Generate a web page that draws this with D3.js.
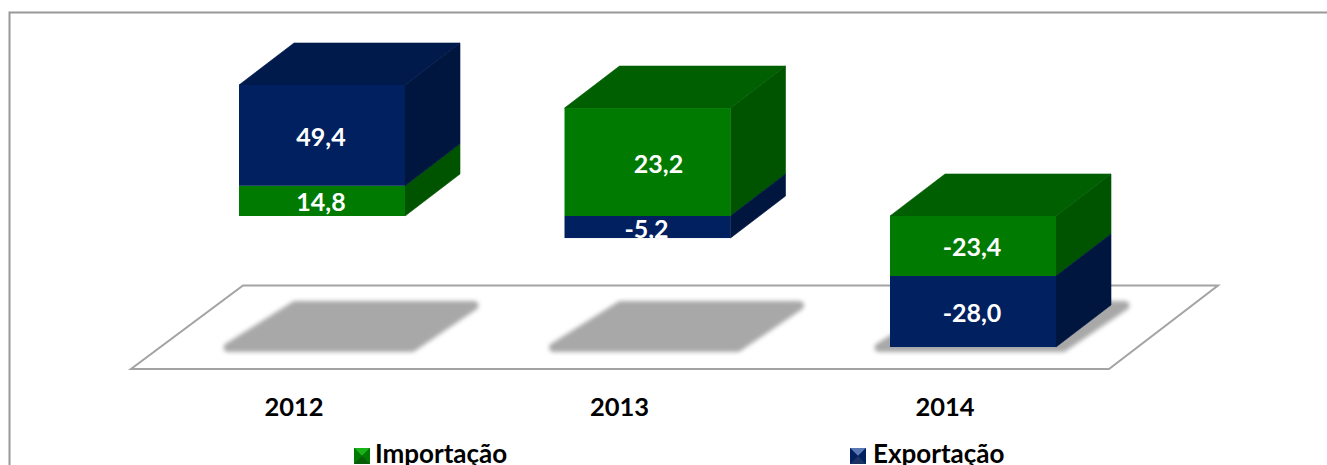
<!DOCTYPE html>
<meta charset="utf-8">
<script src="https://d3js.org/d3.v7.min.js"></script>
<style>
  body { margin: 0; background: #fff; overflow: hidden; }
  text { font-family: Lato, "Open Sans", sans-serif; font-weight: 700; }
</style>
<body>
<div id="my_dataviz"></div>
<script>

// categories and printed labels
var years = ["2012", "2013", "2014"];
var importacaoLabels = ["14,8", "23,2", "-23,4"];
var exportacaoLabels = ["49,4", "-5,2", "-28,0"];

// drawn heights. the printed labels don't match the
// bar heights in the original for 2013 and 2014, so both are kept
var importacaoHeights = [14.8, 52.9, -29.4];
var exportacaoHeights = [49.4, -10.8, -34.8];

var legendNames = ["Importação", "Exportação"];

var width = 1327, height = 465;
var depthX = 55, depthY = 42;

var colors = {
  imp: { front: "#007a00", top: "#005f00", side: "#005400", light: "#19b319", dark: "#0a5c0a" },
  exp: { front: "#002060", top: "#001a4c", side: "#00163f", light: "#5a78b4", dark: "#1a3264" }
};

var svg = d3.select("#my_dataviz")
  .append("svg")
    .attr("width", width)
    .attr("height", height)
    .style("display", "block");

var defs = svg.append("defs");
defs.append("filter")
    .attr("id", "blur")
    .attr("x", "-10%").attr("y", "-20%").attr("width", "120%").attr("height", "140%")
  .append("feGaussianBlur")
    .attr("stdDeviation", 2);

// frame, it runs off the right and bottom of the crop
svg.append("path")
  .attr("d", "M9.5," + height + "V12.5H" + width)
  .attr("fill", "none")
  .attr("stroke", "#999")
  .attr("stroke-width", 2);

var x = d3.scaleBand()
  .domain(years)
  .range([211, 1028])
  .paddingInner(1 - 166 / 325.5);

var y = d3.scaleLinear()
  .domain([-64, 64])
  .range([346.6, 85.4]);

var line = d3.line();

// floor
svg.append("path")
  .attr("d", line([[131, 369], [1109, 369], [1218, 285.5], [243, 285.5]]) + "Z")
  .attr("fill", "#fff")
  .attr("stroke", "#a3a3a3")
  .attr("stroke-width", 2);

// shadows on the floor
svg.selectAll(".shadow")
  .data(years)
  .enter()
  .append("path")
    .attr("class", "shadow")
    .attr("d", function(d) {
      var b = x(d);
      return line([[b + 17, 347.5], [b + 201, 347.5], [b + 263, 305.5], [b + 84, 305.5]]) + "Z";
    })
    .attr("fill", "#a8a8a8")
    .attr("stroke", "#a8a8a8")
    .attr("stroke-width", 9)
    .attr("stroke-linejoin", "round")
    .attr("filter", "url(#blur)");

// stack the two series per year, positives upward and negatives downward
var segments = [];
years.forEach(function(year, i) {
  var pos = 0, neg = 0;
  [
    { key: "imp", h: importacaoHeights[i], label: importacaoLabels[i] },
    { key: "exp", h: exportacaoHeights[i], label: exportacaoLabels[i] }
  ].forEach(function(s) {
    var from = s.h >= 0 ? pos : neg;
    var to = from + s.h;
    if (s.h >= 0) pos = to; else neg = to;
    segments.push({ year: year, key: s.key, label: s.label, y0: Math.max(from, to), y1: Math.min(from, to) });
  });
});

var front = function(d) { return x(d.year) + depthX / 2 + 0.5; };
var w = x.bandwidth();

// side faces
svg.selectAll(".side")
  .data(segments)
  .enter()
  .append("path")
    .attr("class", "side")
    .attr("d", function(d) {
      var r = front(d) + w;
      return line([[r, y(d.y0)], [r + depthX, y(d.y0) - depthY], [r + depthX, y(d.y1) - depthY], [r, y(d.y1)]]) + "Z";
    })
    .attr("fill", function(d) { return colors[d.key].side; })
    .attr("stroke", function(d) { return colors[d.key].side; })
    .attr("stroke-width", 0.6);

// top face goes on the highest segment of each year
var tops = years.map(function(year) {
  var own = segments.filter(function(s) { return s.year == year; });
  return own.reduce(function(a, b) { return b.y0 > a.y0 ? b : a; });
});
svg.selectAll(".top")
  .data(tops)
  .enter()
  .append("path")
    .attr("class", "top")
    .attr("d", function(d) {
      var l = front(d), t = y(d.y0);
      return line([[l, t], [l + depthX, t - depthY], [l + w + depthX, t - depthY], [l + w, t]]) + "Z";
    })
    .attr("fill", function(d) { return colors[d.key].top; })
    .attr("stroke", function(d) { return colors[d.key].top; })
    .attr("stroke-width", 0.6);

// front faces
svg.selectAll(".front")
  .data(segments)
  .enter()
  .append("rect")
    .attr("class", "front")
    .attr("x", front)
    .attr("y", function(d) { return y(d.y0); })
    .attr("width", w)
    .attr("height", function(d) { return y(d.y1) - y(d.y0); })
    .attr("fill", function(d) { return colors[d.key].front; });

// value labels. 23,2 sits right of centre in the original
svg.selectAll(".value")
  .data(segments)
  .enter()
  .append("text")
    .attr("class", "value")
    .attr("x", function(d) {
      var nudge = d.label == "23,2" ? 11 : -1;
      return front(d) + w / 2 + nudge;
    })
    .attr("y", function(d) { return (y(d.y0) + y(d.y1)) / 2 + 1.5; })
    .attr("dy", "0.36em")
    .attr("text-anchor", "middle")
    .attr("fill", "#fff")
    .style("font-size", "25px")
    .text(function(d) { return d.label; });

// category axis
var axis = svg.append("g")
  .attr("transform", "translate(0,398)")
  .call(d3.axisBottom(x).tickSize(0).tickPadding(0));
axis.select(".domain").remove();
axis.selectAll("text")
  .attr("dy", "0.71em")
  .style("font-family", "Lato, sans-serif")
  .style("font-weight", 700)
  .style("font-size", "25.5px")
  .attr("fill", "#000");

// legend
var legendX = d3.scaleOrdinal().domain(["imp", "exp"]).range([354, 850]);
var legend = svg.selectAll(".legend")
  .data(["imp", "exp"])
  .enter()
  .append("g")
    .attr("class", "legend")
    .attr("transform", function(d) { return "translate(" + legendX(d) + ",448)"; });

var s = 16;
legend.append("rect")
  .attr("width", s).attr("height", s)
  .attr("fill", function(d) { return colors[d].dark; });
legend.append("path")
  .attr("d", line([[0, 0], [s, 0], [s / 2, s / 2]]) + "Z")
  .attr("fill", function(d) { return colors[d].light; });
legend.append("path")
  .attr("d", line([[0, 0], [s / 2, s / 2], [0, s]]) + "Z")
  .attr("fill", function(d) { return colors[d].front; });
legend.append("path")
  .attr("d", line([[s, 0], [s / 2, s / 2], [s, s]]) + "Z")
  .attr("fill", function(d) { return colors[d].front; });
legend.append("text")
  .attr("x", function(d, i) { return i == 0 ? 21 : 23; })
  .attr("y", 15)
  .attr("fill", "#000")
  .style("font-size", "26px")
  .text(function(d, i) { return legendNames[i]; });

</script>
</body>
